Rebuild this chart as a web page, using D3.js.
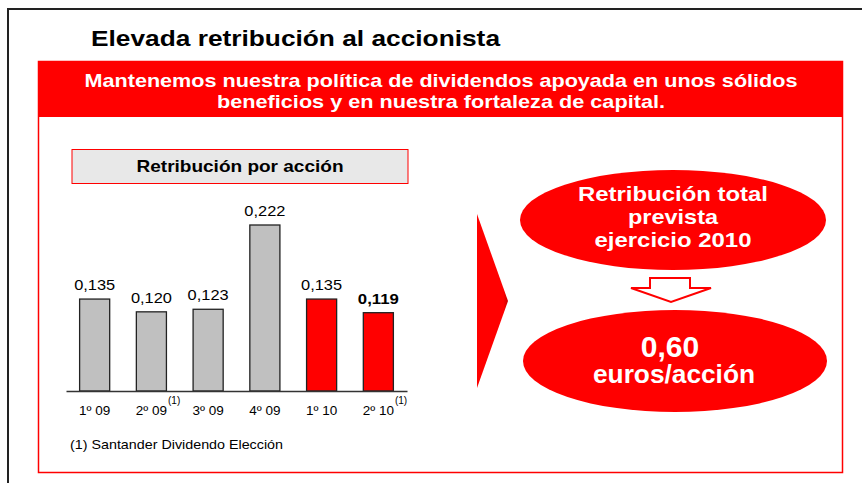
<!DOCTYPE html>
<html>
<head>
<meta charset="utf-8">
<script src="https://cdn.jsdelivr.net/npm/d3@7"></script>
<style>
  body { margin: 0; background: #fff; }
  svg text { font-family: "Liberation Sans", Arial, sans-serif; }
</style>
</head>
<body>
<div id="chart-area"></div>
<script>
// data
const categories = ["1º 09", "2º 09", "3º 09", "4º 09", "1º 10", "2º 10"];
const values = [0.135, 0.120, 0.123, 0.222, 0.135, 0.119];
const labels = ["0,135", "0,120", "0,123", "0,222", "0,135", "0,119"];
const notes = ["", "(1)", "", "", "", "(1)"];
const years = ["2009", "2009", "2009", "2009", "2010", "2010"];
const yMin = 0.027;

const title = "Elevada retribución al accionista";
const headline = ["Mantenemos nuestra política de dividendos apoyada en unos sólidos",
                  "beneficios y en nuestra fortaleza de capital."];
const boxTitle = "Retribución por acción";
const footnote = "(1) Santander Dividendo Elección";
const topBubble = ["Retribución total", "prevista", "ejercicio 2010"];
const totalValue = "0,60";
const totalUnit = "euros/acción";

const RED = "#ff0000";

// the source text is set wider than Liberation Sans, so stretch to measured widths
function fit(sel, w) {
      sel.attr("textLength", w).attr("lengthAdjust", "spacingAndGlyphs")
      return sel
}

const svg = d3.select("#chart-area").append("svg")
      .attr("width", 862)
      .attr("height", 483)

// page frame
svg.append("path")
      .attr("d", "M8,483 V9 H862")
      .attr("fill", "none")
      .attr("stroke", "#222")
      .attr("stroke-width", 2)

svg.append("text")
      .attr("x", 91)
      .attr("y", 46)
      .attr("font-size", "22px")
      .attr("font-weight", "bold")
      .attr("fill", "#000")
      .text(title)
      .call(fit, 409)

// red header + outlined panel
svg.append("rect")
      .attr("x", 38.5).attr("y", 61.5)
      .attr("width", 804).attr("height", 411)
      .attr("fill", "none")
      .attr("stroke", RED)
      .attr("stroke-width", 1.5)

svg.append("rect")
      .attr("x", 38).attr("y", 61)
      .attr("width", 805).attr("height", 56)
      .attr("fill", RED)

const headW = [713, 448]
svg.selectAll(".headline").data(headline).enter().append("text")
      .attr("x", 441)
      .attr("y", (d, i) => 87 + i * 21)
      .attr("text-anchor", "middle")
      .attr("font-size", "18.5px")
      .attr("font-weight", "bold")
      .attr("fill", "#fff")
      .attr("textLength", (d, i) => headW[i])
      .attr("lengthAdjust", "spacingAndGlyphs")
      .text(d => d)

// chart title box
svg.append("rect")
      .attr("x", 72).attr("y", 149.5)
      .attr("width", 336).attr("height", 34)
      .attr("fill", "#e8e8e8")
      .attr("stroke", RED)
      .attr("stroke-width", 1)

svg.append("text")
      .attr("x", 240)
      .attr("y", 172)
      .attr("text-anchor", "middle")
      .attr("font-size", "16.5px")
      .attr("font-weight", "bold")
      .text(boxTitle)
      .call(fit, 207)

// bar chart
const x = d3.scaleBand()
      .domain(categories)
      .range([66, 407])
      .paddingInner(0.47)
      .paddingOuter(0.24)

const y = d3.scaleLinear()
      .domain([yMin, d3.max(values)])
      .range([391, 225])

const g = svg.append("g")

g.selectAll("rect.bar").data(values).enter().append("rect")
      .attr("class", "bar")
      .attr("x", (d, i) => x(categories[i]))
      .attr("y", d => y(d))
      .attr("width", x.bandwidth())
      .attr("height", d => y(yMin) - y(d))
      .attr("fill", (d, i) => years[i] === "2010" ? RED : "#c0c0c0")
      .attr("stroke", "#222")
      .attr("stroke-width", 1.3)

g.selectAll("text.val").data(values).enter().append("text")
      .attr("class", "val")
      .attr("x", (d, i) => x(categories[i]) + x.bandwidth() / 2)
      .attr("y", d => y(d) - 9)
      .attr("text-anchor", "middle")
      .attr("font-size", "15.5px")
      .attr("font-weight", (d, i) => i === values.length - 1 ? "bold" : "normal")
      .attr("textLength", 41)
      .attr("lengthAdjust", "spacingAndGlyphs")
      .text((d, i) => labels[i])

const xAxis = g.append("g")
      .attr("transform", `translate(0, ${y(yMin)})`)
      .call(d3.axisBottom(x).tickSize(0).tickPadding(14))
xAxis.select(".domain").attr("stroke", "#333").attr("stroke-width", 1.5)
xAxis.selectAll(".tick text")
      .attr("font-size", "13.5px")
      .attr("fill", "#000")
      .attr("font-family", "'Liberation Sans', Arial, sans-serif")
      .each(function(d, i) {
            if (!notes[i]) return
            // footnote marker hangs off the centred label
            const w = this.getComputedTextLength()
            d3.select(this.parentNode).append("text")
                  .attr("x", w / 2 + 1)
                  .attr("y", 13)
                  .attr("font-size", "10px")
                  .attr("fill", "#000")
                  .attr("text-anchor", "start")
                  .attr("font-family", "'Liberation Sans', Arial, sans-serif")
                  .text(notes[i])
      })

svg.append("text")
      .attr("x", 70)
      .attr("y", 449)
      .attr("font-size", "13px")
      .text(footnote)
      .call(fit, 213)

// big chevron
const defs = svg.append("defs")
const grad = defs.append("linearGradient").attr("id", "chev")
      .attr("x1", 0).attr("x2", 1).attr("y1", 0).attr("y2", 0)
grad.append("stop").attr("offset", "0%").attr("stop-color", RED)
grad.append("stop").attr("offset", "85%").attr("stop-color", RED)
grad.append("stop").attr("offset", "100%").attr("stop-color", "#c80000")

svg.append("path")
      .attr("d", "M477,214 L508,301 L477,388 Z")
      .attr("fill", "url(#chev)")

// bubbles
svg.append("ellipse")
      .attr("cx", 673).attr("cy", 220)
      .attr("rx", 153).attr("ry", 50)
      .attr("fill", RED)

const bubbleW = [190, 90, 157]
svg.selectAll(".bubble1").data(topBubble).enter().append("text")
      .attr("x", 673)
      .attr("y", (d, i) => 201 + i * 23)
      .attr("text-anchor", "middle")
      .attr("font-size", "21px")
      .attr("font-weight", "bold")
      .attr("fill", "#fff")
      .attr("textLength", (d, i) => bubbleW[i])
      .attr("lengthAdjust", "spacingAndGlyphs")
      .text(d => d)

svg.append("path")
      .attr("d", "M650,278 H690 V288 H711 L671,302 L631,288 H650 Z")
      .attr("fill", "#fff")
      .attr("stroke", RED)
      .attr("stroke-width", 2)

svg.append("ellipse")
      .attr("cx", 675).attr("cy", 361)
      .attr("rx", 152).attr("ry", 51)
      .attr("fill", RED)

svg.append("text")
      .attr("x", 670)
      .attr("y", 357)
      .attr("text-anchor", "middle")
      .attr("font-size", "30px")
      .attr("font-weight", "bold")
      .attr("fill", "#fff")
      .text(totalValue)

svg.append("text")
      .attr("x", 674)
      .attr("y", 383)
      .attr("text-anchor", "middle")
      .attr("font-size", "25px")
      .attr("font-weight", "bold")
      .attr("fill", "#fff")
      .text(totalUnit)
      .call(fit, 162)
</script>
</body>
</html>
